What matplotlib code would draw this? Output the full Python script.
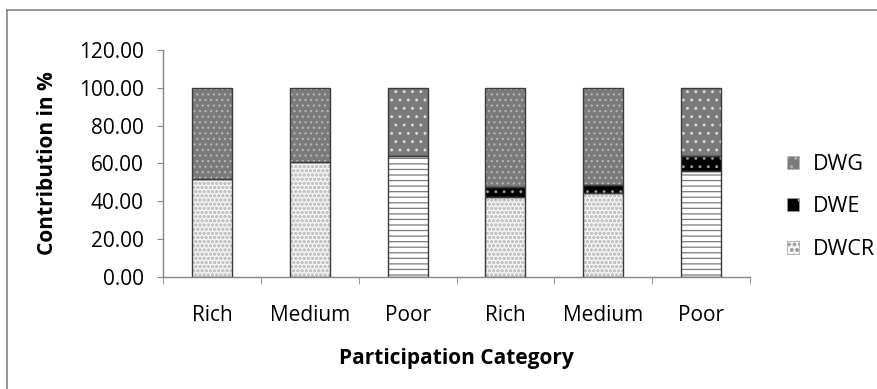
import matplotlib
matplotlib.use('Agg')
from matplotlib import pyplot as plt
from matplotlib.patches import Patch
from matplotlib.lines import Line2D
import numpy as np

# values (percent)
categories = ['Rich', 'Medium', 'Poor', 'Rich', 'Medium', 'Poor']
dwcr = [51.7, 60.7, 63.7, 42.5, 44.6, 56.2]
dwe = [0.0, 0.0, 0.0, 5.3, 4.1, 7.5]
dwg = [48.3, 39.3, 36.3, 52.2, 51.3, 36.3]

plt.rcParams['font.family'] = ['Open Sans', 'DejaVu Sans']
plt.rcParams['hatch.linewidth'] = 0.9

fig = plt.figure(figsize=(8.77, 3.89), dpi=100)
ax = fig.add_axes([0.1859, 0.2879, 0.6693, 0.5836])

x = np.arange(len(categories))
w = 0.41
edge = '#3a3a3a'
poor = [c == 'Poor' for c in categories]

# (face, hatch colour, hatch) for normal and Poor bars
styles = {
    'DWCR': (('#f4f4f4', '#c4c4c4', 'oooo'), ('white', '#7a7a7a', '---')),
    'DWE': (('black', '#9a9a9a', '..'), ('black', '#9a9a9a', '..')),
    'DWG': (('#7a7a7a', '#b4b4b4', '...'), ('#7a7a7a', '#dcdcdc', '..')),
}

def draw(vals, bottom, name):
    for i in range(len(x)):
        if vals[i] <= 0:
            continue
        face, hc, h = styles[name][1 if poor[i] else 0]
        ax.bar(x[i], vals[i], w, bottom=bottom[i], color=face,
               edgecolor=hc, hatch=h, linewidth=0, zorder=2)
        ax.bar(x[i], vals[i], w, bottom=bottom[i], fill=False,
               edgecolor=edge, linewidth=1.0, zorder=3)

zeros = [0] * len(x)
draw(dwcr, zeros, 'DWCR')
b2 = [a + b for a, b in zip(dwcr, dwe)]
draw(dwe, dwcr, 'DWE')
draw(dwg, b2, 'DWG')

ax.set_xlim(-0.5, len(x) - 0.5)
ax.set_ylim(0, 120)
ax.set_yticks(np.arange(0, 121, 20))
ax.set_yticklabels(['%.2f' % v for v in np.arange(0, 121, 20)])
ax.set_xticks(x)
ax.set_xticklabels(categories)
ax.set_xticks(np.arange(-0.5, len(x), 1), minor=True)

gray = '#868686'
for s in ['top', 'right']:
    ax.spines[s].set_visible(False)
for s in ['left', 'bottom']:
    ax.spines[s].set_color(gray)
    ax.spines[s].set_linewidth(1.0)

fs = 15
ax.tick_params(axis='y', length=4, color=gray, labelsize=fs, pad=10)
ax.tick_params(axis='x', which='major', length=0, labelsize=fs, pad=20)
ax.tick_params(axis='x', which='minor', length=5, color=gray)

ax.set_xlabel('Participation Category', fontsize=15, fontweight='bold')
ax.xaxis.label.set_va('center')
ax.xaxis.set_label_coords(0.5, -0.357)
ax.set_ylabel('Contribution in %', fontsize=15, fontweight='bold')
ax.yaxis.label.set_va('center')
ax.yaxis.set_label_coords(-0.196, 0.502)

handles = [
    Patch(facecolor='#7a7a7a', edgecolor='#b4b4b4', hatch='..', linewidth=0.5),
    Patch(facecolor='black', edgecolor='#9a9a9a', hatch='.', linewidth=0.5),
    Patch(facecolor='#f4f4f4', edgecolor='#a0a0a0', hatch='ooo', linewidth=0.5),
]
fig.legend(handles, ['DWG', 'DWE', 'DWCR'], loc='center left',
           bbox_to_anchor=(0.897, 0.468), frameon=False, fontsize=15.5,
           handlelength=0.55, handleheight=0.55, handletextpad=0.65,
           labelspacing=1.0, borderpad=0, borderaxespad=0)

# chart frame (only top and left visible in the crop)
fig.add_artist(Line2D([0.008, 0.008], [0, 1 - 9.5 / 389], color=gray, linewidth=1.2))
fig.add_artist(Line2D([0.008, 1], [1 - 9.5 / 389, 1 - 9.5 / 389], color=gray, linewidth=1.2))

fig.savefig('out.png', dpi=100)
